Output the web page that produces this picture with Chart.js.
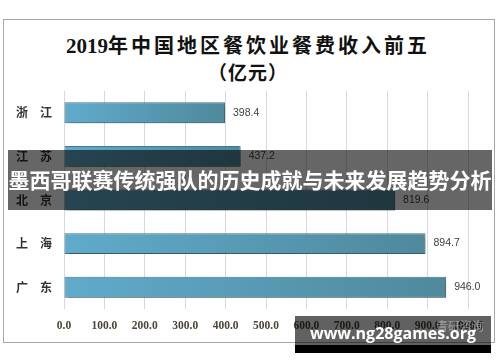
<!DOCTYPE html>
<html>
<head>
<meta charset="utf-8">
<script src="https://cdn.jsdelivr.net/npm/chart.js@4.4.1/dist/chart.umd.min.js"></script>
<style>
  html, body { margin: 0; padding: 0; background: #fff; }
  #wrap { position: relative; width: 500px; height: 362px; overflow: hidden; }
  #frame { position: absolute; left: 3px; top: 19px; width: 490px; height: 322px; border: 1px solid #a6a6a6; }
  #box { position: absolute; left: 0; top: 0; width: 500px; height: 362px; }
  .title { position: absolute; left: 0; width: 496px; text-align: center; color: #111; font-weight: 700; white-space: nowrap; }
  #t1 { top: 30px; font-size: 20px; letter-spacing: 3px; font-family: "Noto Sans CJK SC", serif; }
  #t1 .num { font-family: "Liberation Serif", serif; font-size: 21px; letter-spacing: 0; }
  #t2 { top: 58px; font-size: 19px; letter-spacing: 1px; font-family: "Noto Sans CJK SC", serif; }
  #banner { position: absolute; left: 8px; top: 150px; width: 484px; height: 60px; background: rgba(0,0,0,0.6);
            color: #fff; font: 700 21px "Noto Sans CJK SC", sans-serif; line-height: 58px; text-align: center;
            white-space: nowrap; overflow: hidden; }
  #mark { position: absolute; left: 295px; top: 316px; width: 196px; height: 29px; background: rgba(0,0,0,0.62); }
  #markstrip { position: absolute; left: 295px; top: 345px; width: 196px; height: 8px; background: #000; }
  #marktext { position: absolute; left: 295px; top: 322px; width: 196px; text-align: center; color: #fff;
              font: 700 16px "Open Sans", sans-serif; line-height: 22px; white-space: nowrap; }
  #logo { position: absolute; left: 436px; top: 317px; color: rgba(210,210,210,0.55); font: 12px "Noto Sans CJK SC", sans-serif; }
</style>
</head>
<body>
<div id="wrap">
  <div id="frame"></div>
  <div class="title" id="t1"><span class="num">2019</span>年中国地区餐饮业餐费收入前五</div>
  <div class="title" id="t2">（亿元）</div>
  <div id="box"><canvas id="chart"></canvas></div>
  <div id="banner">墨西哥联赛传统强队的历史成就与未来发展趋势分析</div>
  <div id="mark"></div>
  <div id="markstrip"></div>
  <div id="logo">青研咨询</div>
  <div id="marktext">www.ng28games.org</div>
</div>
<script>
const regions = ["浙江", "江苏", "北京", "上海", "广东"];
const income = [398.4, 437.2, 819.6, 894.7, 946.0];
const xMin = 0;
const xMax = 1000;
const xStep = 100;

function barGradient(context) {
    const chart = context.chart;
    if (!chart.chartArea) return "#5ea9c9";
    const xs = chart.scales.x;
    const x0 = xs.getPixelForValue(0);
    const x1 = xs.getPixelForValue(context.raw);
    const g = chart.ctx.createLinearGradient(x0, 0, x1, 0);
    g.addColorStop(0, "#60abcb");
    g.addColorStop(1, "#4f899c");
    return g;
}

// soft drop shadow under bars
const barShadow = {
    id: "barShadow",
    beforeDatasetsDraw(chart) {
        const ctx = chart.ctx;
        ctx.save();
        ctx.shadowColor = "rgba(0,0,0,0.35)";
        ctx.shadowBlur = 3;
        ctx.shadowOffsetX = 2;
        ctx.shadowOffsetY = 2;
    },
    afterDatasetsDraw(chart) {
        chart.ctx.restore();
    }
};

// value labels at the end of each bar
const valueLabels = {
    id: "valueLabels",
    afterDatasetsDraw(chart) {
        const ctx = chart.ctx;
        const meta = chart.getDatasetMeta(0);
        ctx.save();
        ctx.font = "10.5px 'Liberation Sans', sans-serif";
        ctx.fillStyle = "#404040";
        ctx.textAlign = "left";
        ctx.textBaseline = "middle";
        meta.data.forEach((bar, i) => {
            ctx.fillText(income[i].toFixed(1), bar.x + 8, bar.y);
        });
        ctx.restore();
    }
};

new Chart(document.getElementById("chart"), {
    type: "bar",
    data: {
        labels: regions,
        datasets: [{
            data: income,
            backgroundColor: barGradient,
            borderColor: "#44788c",
            borderWidth: 1,
            borderSkipped: false,
            categoryPercentage: 1,
            barPercentage: 0.48
        }]
    },
    options: {
        indexAxis: "y",
        responsive: true,
        maintainAspectRatio: false,
        animation: false,
        layout: { padding: { left: 9, right: 32, top: 91, bottom: 0 } },
        plugins: {
            legend: { display: false },
            tooltip: { enabled: false }
        },
        scales: {
            x: {
                min: xMin,
                max: xMax,
                afterFit: (s) => { s.height = 53; },
                grid: { color: "#d9d9d9", drawTicks: false },
                border: { display: false },
                ticks: {
                    stepSize: xStep,
                    padding: 10,
                    color: "#4d4438",
                    font: { family: "'Liberation Serif', serif", size: 11.5, weight: "bold" },
                    callback: (v) => Number(v).toFixed(1)
                }
            },
            y: {
                afterFit: (s) => { s.width = 55; },
                grid: { display: false },
                border: { display: false },
                ticks: {
                    padding: 4,
                    color: "#333",
                    font: { family: "'Noto Sans CJK SC', sans-serif", size: 12, weight: "bold" },
                    callback: function (v) { return this.getLabelForValue(v).split("").join("\u3000"); }
                }
            }
        }
    },
    plugins: [barShadow, valueLabels]
});
</script>
</body>
</html>
